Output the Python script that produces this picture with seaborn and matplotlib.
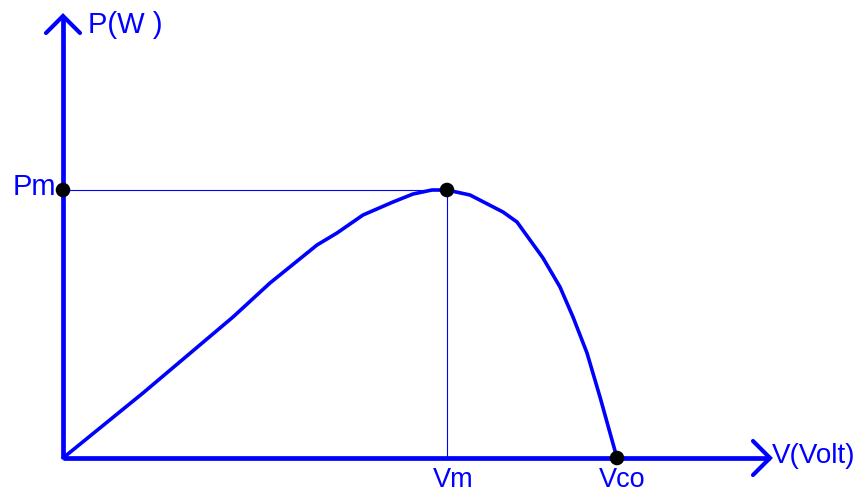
import pandas as pd
import seaborn as sns
import matplotlib.pyplot as plt

# Courbe P(V) d'une cellule PV (unites arbitraires)
tension = [0, 80, 170, 207, 254, 274, 300, 330, 350, 369, 384, 407, 440, 454, 480, 497, 510, 524, 537, 554]
puissance = [0, 65, 141, 175, 213, 225, 243, 256, 264, 268, 268, 263, 246, 236, 200, 171, 141, 105, 61, 0]

vm = 384
pm = 268
vco = 554

df = pd.DataFrame({"V": tension, "P": puissance})
df_pts = pd.DataFrame({"V": [0, vm, vco], "P": [pm, pm, 0]})

sns.set_theme(style="white")
plt.rcParams['font.family'] = ['Liberation Sans', 'DejaVu Sans']

bleu = "#0000FF"
fig = plt.figure(figsize=(8.65, 4.94), dpi=100)
ax = fig.add_axes([0, 0, 1, 1])
ax.set_xlim(-63, 802)
ax.set_ylim(-36, 458)
ax.axis("off")

# axes avec fleches
ax.plot([0, 0], [0, 442], color=bleu, lw=3.4, solid_capstyle="butt")
ax.plot([0, 707], [0, 0], color=bleu, lw=3.4, solid_capstyle="butt")
ax.plot([-17, 0, 17], [425, 442, 425], color=bleu, lw=3.0, solid_joinstyle="miter")
ax.plot([690, 707, 690], [17, 0, -17], color=bleu, lw=3.0, solid_joinstyle="miter")

# lignes de repere
ax.plot([0, vm], [pm, pm], color=bleu, lw=0.8)
ax.plot([vm, vm], [0, pm], color=bleu, lw=0.8)

sns.lineplot(data=df, x="V", y="P", ax=ax, color=bleu, lw=2.6, sort=False)
sns.scatterplot(data=df_pts, x="V", y="P", ax=ax, color="black", s=110, zorder=5, edgecolor="none")

ax.text(25, 425, "P(W )", color=bleu, fontsize=21, va="baseline", ha="left")
ax.text(-7, 263, "Pm", color=bleu, fontsize=21, va="baseline", ha="right")
ax.text(390, -29, "Vm", color=bleu, fontsize=19.5, va="baseline", ha="center")
ax.text(559, -29, "Vco", color=bleu, fontsize=19.5, va="baseline", ha="center")
ax.text(709, -5, "V(Volt)", color=bleu, fontsize=20, va="baseline", ha="left")

ax.set_xlabel("")
ax.set_ylabel("")
plt.savefig("out.png", dpi=100)
plt.close()
